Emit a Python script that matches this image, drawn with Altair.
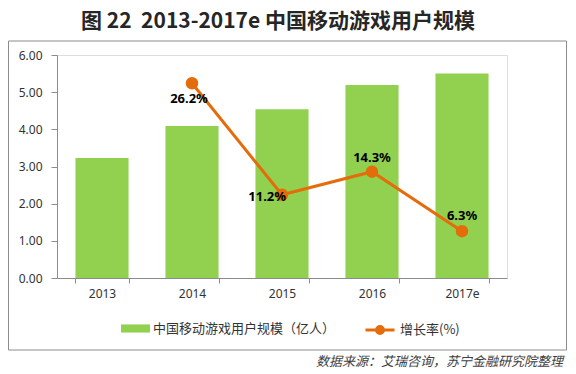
import altair as alt
import pandas as pd

years = ["2013", "2014", "2015", "2016", "2017e"]
users = [3.23, 4.09, 4.54, 5.19, 5.50]
growth_years = ["2014", "2015", "2016", "2017e"]
growth = [0.262, 0.112, 0.143, 0.063]

bar_label = "中国移动游戏用户规模（亿人）"
line_label = "增长率(%)"
title_text = "图 22\u00a0\u00a02013-2017e 中国移动游戏用户规模"
source_text = "数据来源：艾瑞咨询，苏宁金融研究院整理"

bars_df = pd.DataFrame({"year": years, "users": users, "series": bar_label})
line_df = pd.DataFrame({"year": growth_years, "growth": growth, "series": line_label})

GREEN = "#92D050"
ORANGE = "#E46C0A"
AXIS = "#8C8C8C"
CJK = "Noto Sans CJK SC"
LAT = "Noto Sans"

W, H = 450, 223

x_enc = alt.X(
    "year:N", sort=years,
    scale=alt.Scale(domain=years, paddingInner=0.41, paddingOuter=0.205),
    axis=alt.Axis(title=None, labelAngle=0, tickBand="extent", tickSize=5,
                  domainColor=AXIS, tickColor=AXIS, labelPadding=5,
                  labelFontSize=12, labelFont=LAT, labelColor="#333333"),
)

bars = alt.Chart(bars_df).mark_bar(color=GREEN).encode(
    x=x_enc,
    y=alt.Y("users:Q", scale=alt.Scale(domain=[0, 6]),
            axis=alt.Axis(title=None, orient="left", values=[0, 1, 2, 3, 4, 5, 6],
                          format=".2f", tickSize=6, labelPadding=9, grid=False,
                          domainColor=AXIS, tickColor=AXIS, labelFont=LAT,
                          labelFontSize=12, labelColor="#333333")),
    color=alt.Color("series:N", scale=alt.Scale(domain=[bar_label], range=[GREEN]),
                    legend=alt.Legend(title=None, orient="none", legendX=64, legendY=259,
                                      symbolType="M-1,-0.28L1,-0.28L1,0.28L-1,0.28Z",
                                      symbolSize=841, labelOffset=3, padding=0,
                                      labelLimit=400,
                                      labelFont=CJK, labelFontSize=13,
                                      labelColor="#333333", symbolStrokeWidth=0)),
)

y_line = alt.Y("growth:Q", scale=alt.Scale(domain=[0, 0.3]),
               axis=alt.Axis(title=None, orient="right",
                             values=[0, 0.05, 0.1, 0.15, 0.2, 0.25, 0.3],
                             format=".1%", tickSize=6, labelPadding=8, grid=False,
                             domainColor=AXIS, tickColor=AXIS, labelFont=LAT,
                             labelFontSize=12, labelColor="#333333"))

line = alt.Chart(line_df).mark_line(
    strokeWidth=3,
    point=alt.OverlayMarkDef(size=110, filled=True, color=ORANGE, opacity=1),
).encode(
    x=alt.X("year:N", sort=years),
    y=y_line,
    stroke=alt.Stroke("series:N", scale=alt.Scale(domain=[line_label], range=[ORANGE]),
                      legend=alt.Legend(title=None, orient="none", legendX=307, legendY=259,
                                        symbolType="M-1,0L1,0M-0.24,0A0.24,0.24 0 1,0 0.24,0A0.24,0.24 0 1,0 -0.24,0Z",
                                        symbolSize=841, symbolStrokeWidth=3,
                                        symbolFillColor=ORANGE, symbolStrokeColor=ORANGE,
                                        labelOffset=4, padding=0, labelLimit=300,
                                        labelFont=CJK, labelFontSize=13,
                                        labelColor="#333333")),
)

def label_layer(year, **kw):
    return alt.Chart(line_df).transform_filter(
        alt.datum.year == year
    ).mark_text(fontSize=13, fontWeight="bold", font=LAT, color="#000000", **kw).encode(
        x=alt.X("year:N", sort=years),
        y=alt.Y("growth:Q", scale=alt.Scale(domain=[0, 0.3]), axis=None),
        text=alt.Text("growth:Q", format=".1%"),
    )

labels = alt.layer(
    label_layer("2014", dx=-3, dy=16),
    label_layer("2015", align="right", dx=4, dy=2),
    label_layer("2016", dy=-14),
    label_layer("2017e", dy=-15),
)

frame = alt.Chart(pd.DataFrame({"k": [0]})).mark_rect(
    fill=None, stroke=AXIS, strokeWidth=1
).encode(x=alt.value(-48.5), x2=alt.value(509.5), y=alt.value(-14), y2=alt.value(295))

source = alt.Chart(pd.DataFrame({"t": [source_text]})).mark_text(
    align="right", baseline="middle", fontSize=13, fontStyle="italic", font=CJK,
    color="#404040"
).encode(x=alt.value(506), y=alt.value(307), text="t:N")

chart = alt.layer(
    frame, bars, alt.layer(line, labels), source
).resolve_scale(y="independent", color="independent").properties(
    width=W, height=H,
    autosize=alt.AutoSizeParams(type="none"),
    padding={"left": 49, "top": 47, "right": 60, "bottom": 93},
    title=alt.TitleParams(title_text, font=CJK, fontSize=21, fontWeight="bold",
                          color="#262626", anchor="middle", offset=9, dx=-4),
).configure_view(stroke=None).configure(background="white")

chart.save("out.html", embed_options={"renderer": "svg", "actions": False})
